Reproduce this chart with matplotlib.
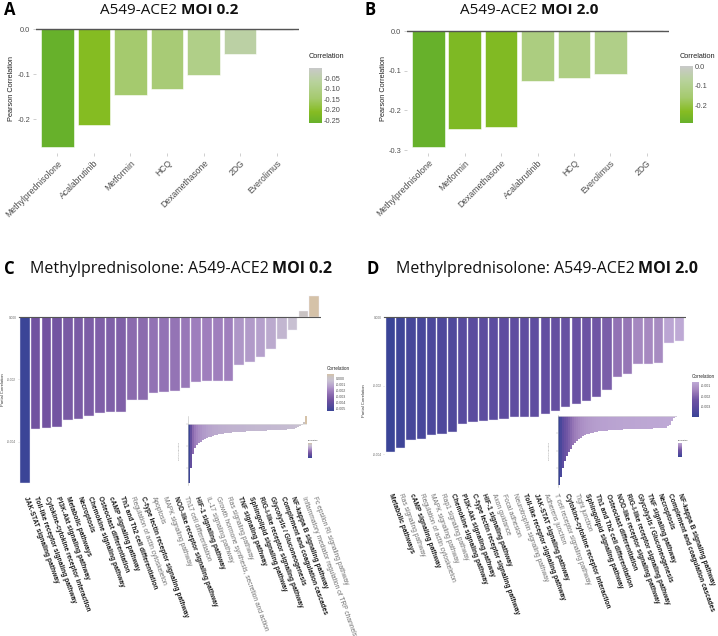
import matplotlib
matplotlib.use("Agg")
import matplotlib.pyplot as plt
import numpy as np
from matplotlib.colors import LinearSegmentedColormap, Normalize
from matplotlib.colorbar import ColorbarBase

W, H = 718, 636

# A / B: Pearson correlation per drug
drugs_a = ["Methylprednisolone", "Acalabrutinib", "Metformin", "HCQ", "Dexamethasone", "2DG", "Everolimus"]
corr_a = [-0.261, -0.212, -0.145, -0.132, -0.101, -0.056, -0.002]
drugs_b = ["Methylprednisolone", "Metformin", "Dexamethasone", "Acalabrutinib", "HCQ", "Everolimus", "2DG"]
corr_b = [-0.292, -0.248, -0.242, -0.125, -0.119, -0.109, 0.003]

# C: pathways, MOI 0.2
paths_c = ["JAK-STAT signaling pathway", "Toll-like receptor signaling pathway",
           "Cytokine-cytokine receptor interaction", "PI3K-Akt signaling pathway",
           "Metabolic pathways", "Necroptosis", "Chemokine signaling pathway",
           "Osteoclast differentiation", "cAMP signaling pathway", "Th1 and Th2 cell differentiation",
           "Regulation of actin cytoskeleton", "C-type lectin receptor signaling pathway", "Apoptosis",
           "MAPK signaling pathway", "NOD-like receptor signaling pathway", "Th17 cell differentiation",
           "HIF-1 signaling pathway", "IL-17 signaling pathway",
           "Growth hormone synthesis, secretion and action", "Ras signaling pathway",
           "TNF signaling pathway", "Sphingolipid signaling pathway",
           "RIG-I-like receptor signaling pathway", "Glycolysis / Gluconeogenesis",
           "Complement and coagulation cascades", "NF-kappa B signaling pathway",
           "Inflammatory mediator regulation of TRP channels", "Fc epsilon RI signaling pathway"]
bold_c = [1, 1, 1, 1, 1, 1, 1, 1, 1, 1, 0, 1, 0, 0, 1, 0, 1, 0, 0, 0, 1, 1, 1, 1, 1, 1, 0, 0]
pcorr_c = [-0.00534, -0.00358, -0.00356, -0.00352, -0.00330, -0.00326, -0.00318, -0.00308,
           -0.00306, -0.00303, -0.00267, -0.00267, -0.00243, -0.00240, -0.00237, -0.00226,
           -0.00208, -0.00205, -0.00205, -0.00205, -0.00152, -0.00144, -0.00129, -0.00101,
           -0.00069, -0.00040, 0.00020, 0.00070]
# C inset: all pathways, sorted
inset_c = [-0.0053, -0.0040, -0.0027, -0.0022, -0.0019, -0.0017, -0.0016, -0.00145, -0.0014, -0.0013,
           -0.00122, -0.00115, -0.00108, -0.00103, -0.0010, -0.00096, -0.00092, -0.00088, -0.00086, -0.00084,
           -0.00082, -0.0008, -0.00078, -0.00077, -0.00076, -0.00074, -0.00073, -0.00072, -0.0007, -0.00069,
           -0.00068, -0.00067, -0.00066, -0.00065, -0.00064, -0.00063, -0.00063, -0.00062, -0.00061, -0.00061,
           -0.0006, -0.0006, -0.00059, -0.00058, -0.00058, -0.00057, -0.00056, -0.00055, -0.00054, -0.00052,
           -0.00051, -0.0005, -0.00048, -0.00045, -0.0004, -0.00032, -0.0002, -0.0001, 0.0002, 0.0007]

# D: pathways, MOI 2.0
paths_d = ["Metabolic pathways", "Ras signaling pathway", "cAMP signaling pathway",
           "Regulation of actin cytoskeleton", "MAPK signaling pathway", "Rap1 signaling pathway",
           "Chemokine signaling pathway", "PI3K-Akt signaling pathway",
           "C-type lectin receptor signaling pathway", "HIF-1 signaling pathway", "Axon guidance",
           "Focal adhesion", "Neurotrophin signaling pathway", "Toll-like receptor signaling pathway",
           "JAK-STAT signaling pathway", "Adherens junction", "T cell receptor signaling pathway",
           "Cytokine-cytokine receptor interaction", "Tight junction", "Sphingolipid signaling pathway",
           "Th1 and Th2 cell differentiation", "Osteoclast differentiation",
           "NOD-like receptor signaling pathway", "RIG-I-like receptor signaling pathway",
           "Glycolysis / Gluconeogenesis", "TNF signaling pathway", "Necroptosis",
           "Complement and coagulation cascades", "NF-kappa B signaling pathway"]
bold_d = [1, 0, 1, 0, 0, 0, 1, 1, 1, 1, 0, 0, 0, 1, 1, 0, 0, 1, 0, 1, 1, 1, 1, 1, 1, 1, 1, 1, 1]
pcorr_d = [-0.00395, -0.00381, -0.00359, -0.00356, -0.00345, -0.00341, -0.00336, -0.00312,
           -0.00305, -0.00303, -0.00301, -0.00297, -0.00292, -0.00292, -0.00292, -0.00283,
           -0.00273, -0.00262, -0.00254, -0.00246, -0.00234, -0.00213, -0.00174, -0.00166,
           -0.00137, -0.00136, -0.00133, -0.00076, -0.00068]
inset_d = [-0.0040, -0.0035, -0.0030, -0.0026, -0.0023, -0.0021, -0.0019, -0.0017, -0.00155, -0.00145,
           -0.00135, -0.00125, -0.00118, -0.00112, -0.00107, -0.00103, -0.0010, -0.00097, -0.00094, -0.00092,
           -0.0009, -0.00088, -0.00087, -0.00086, -0.00085, -0.00084, -0.00083, -0.00082, -0.00081, -0.0008,
           -0.0008, -0.00079, -0.00079, -0.00078, -0.00078, -0.00077, -0.00077, -0.00076, -0.00076, -0.00075,
           -0.00075, -0.00075, -0.00074, -0.00074, -0.00074, -0.00073, -0.00073, -0.00073, -0.00072, -0.00072,
           -0.00072, -0.00071, -0.00071, -0.0007, -0.00068, -0.0006, -0.0005, -0.00032, -0.00015, -0.00004]

plt.rcParams["font.family"] = ["Liberation Sans", "DejaVu Sans"]
plt.rcParams["axes.unicode_minus"] = False

green = LinearSegmentedColormap.from_list("green", [(0, "#67b12b"), (0.2, "#86bc22"), (0.45, "#a5ca6e"),
                                                    (0.75, "#b8d29c"), (1, "#c9c9c9")])
purple_c = LinearSegmentedColormap.from_list("pc", [(0, "#3b4597"), (0.29, "#7152a0"), (0.44, "#8a6aae"),
                                                    (0.55, "#a080be"), (0.67, "#b5a0cc"), (0.82, "#c8c0d2"),
                                                    (0.92, "#c9c3c3"), (1, "#d5c2a8")])
purple_d = LinearSegmentedColormap.from_list("pd", [(0, "#3a4497"), (0.3, "#5e4ca0"), (0.5, "#6f55a4"),
                                                    (0.7, "#9676b6"), (0.8, "#a78ac1"), (1, "#bea9d5")])

fig = plt.figure(figsize=(W / 100, H / 100), dpi=100)
renderer = fig.canvas.get_renderer()


def px_axes(l, t, r, b):
    return fig.add_axes([l / W, 1 - b / H, (r - l) / W, (b - t) / H])


def fig_text(x, y, s, **kw):
    return fig.text(x / W, 1 - y / H, s, **kw)


def title(x, y, regular, bold, size, center=True):
    kw = dict(fontsize=size, va="center", family=["Open Sans", "DejaVu Sans"], color="#111111")
    t1 = fig_text(0, y, regular, **kw)
    t2 = fig_text(0, y, bold, fontweight="bold", **kw)
    w1 = t1.get_window_extent(renderer).width
    w2 = t2.get_window_extent(renderer).width
    gap = size * 0.3
    x0 = x - (w1 + gap + w2) / 2 if center else x
    t1.set_x(x0 / W)
    t2.set_x((x0 + w1 + gap) / W)


def clean(ax):
    for s in ax.spines.values():
        s.set_visible(False)
    ax.set_facecolor("none")


def drug_panel(ax, names, vals, norm, yticks, ylim, label_x):
    x = np.arange(1, len(vals) + 1)
    ax.bar(x, vals, width=0.9, color=green(norm(np.array(vals))), edgecolor="white", linewidth=0.4)
    ax.axhline(0, color="#555555", lw=1.0)
    ax.set_xlim(0.4, len(vals) + 0.6)
    ax.set_ylim(*ylim)
    clean(ax)
    ax.set_xticks(x)
    ax.set_xticklabels(names, rotation=45, ha="right", va="top", rotation_mode="anchor",
                       fontsize=6.2, color="#4d4d4d")
    ax.set_yticks(yticks)
    ax.set_yticklabels(["%.1f" % v for v in yticks], fontsize=5.3, color="#4d4d4d")
    ax.tick_params(length=2, color="#c8c8c8", width=0.6, pad=2)
    ax.set_ylabel("Pearson Correlation", fontsize=5.3, color="#222222")
    ax.yaxis.set_label_coords(label_x, 0.5)


def legend_bar(l, t, r, b, cmap, norm, ticks, fmt, size, tsize, title_y):
    cax = px_axes(l, t, r, b)
    cb = ColorbarBase(cax, cmap=cmap, norm=norm, orientation="vertical")
    cb.outline.set_visible(False)
    cb.set_ticks(ticks)
    cb.set_ticklabels([fmt % v for v in ticks])
    cax.tick_params(labelsize=size, colors="#4d4d4d", length=0, pad=1.5)
    fig_text(l, title_y, "Correlation", fontsize=tsize, color="#222222", va="center")
    return cax


def path_panel(ax, names, bold, vals, cmap, norm, ylim, label_x):
    x = np.arange(1, len(vals) + 1)
    ax.bar(x, vals, width=0.9, color=cmap(norm(np.array(vals))), edgecolor="#f0ecf6", linewidth=0.3)
    ax.axhline(0, color="#555555", lw=0.8)
    ax.set_xlim(0.4, len(vals) + 0.6)
    ax.set_ylim(*ylim)
    clean(ax)
    ax.set_xticks(x)
    ax.set_xticklabels(names, rotation=-70, ha="left", va="center", rotation_mode="anchor", fontsize=4.8)
    for lab, bd in zip(ax.get_xticklabels(), bold):
        lab.set_fontweight("bold" if bd else "normal")
        lab.set_color("#1a1a1a" if bd else "#707070")
    ax.tick_params(axis="x", length=0, pad=3)
    yt = [0, -0.002, -0.004]
    ax.set_yticks(yt)
    ax.set_yticklabels(["%.3f" % v for v in yt], fontsize=2.3, color="#666666")
    ax.tick_params(axis="y", length=1, width=0.4, color="#bbbbbb", pad=0.6)
    ax.set_ylabel("Partial Correlation", fontsize=3.0, color="#333333")
    ax.yaxis.set_label_coords(label_x, 0.5)


def inset_panel(ax, vals, cmap, norm, ylim, yticks):
    x = np.arange(len(vals))
    ax.bar(x, vals, width=1.0, color=cmap(norm(np.array(vals))), linewidth=0)
    ax.axhline(0, color="#dddddd", lw=0.5)
    ax.set_xlim(-0.5, len(vals) - 0.5)
    ax.set_ylim(*ylim)
    clean(ax)
    ax.spines["left"].set_visible(True)
    ax.spines["left"].set_color("#bbbbbb")
    ax.spines["left"].set_linewidth(0.4)
    ax.set_xticks([])
    ax.set_yticks(yticks)
    ax.set_yticklabels(["" for v in yticks])
    ax.tick_params(axis="y", length=1.2, width=0.3, color="#aaaaaa")
    ax.set_ylabel("Partial Correlation", fontsize=1.6, color="#888888", labelpad=1)


# ---- A ----
norm_a = Normalize(-0.262, -0.002)
ax_a = px_axes(35.5, 23.4, 298.5, 153)
drug_panel(ax_a, drugs_a, corr_a, norm_a, [0.0, -0.1, -0.2], (-0.275, 0.013), -0.078)
legend_bar(309, 68, 322, 123, green, norm_a, [-0.25, -0.2, -0.15, -0.1, -0.05], "%.2f", 5.3, 5.3, 57)
fig_text(4, 10, "A", fontsize=12, fontweight="bold", va="center", family=["Open Sans", "DejaVu Sans"])
title(169, 10, "A549-ACE2", "MOI 0.2", 11)

# ---- B ----
norm_b = Normalize(-0.292, 0.003)
ax_b = px_axes(406.5, 23.9, 668.5, 152.9)
drug_panel(ax_b, drugs_b, corr_b, norm_b, [0.0, -0.1, -0.2, -0.3], (-0.307, 0.018), -0.074)
legend_bar(680, 66, 693, 123, green, norm_b, [0.0, -0.1, -0.2], "%.1f", 5.3, 5.3, 57)
fig_text(364, 10, "B", fontsize=12, fontweight="bold", va="center", family=["Open Sans", "DejaVu Sans"])
title(529, 10, "A549-ACE2", "MOI 2.0", 11)

# ---- C ----
norm_c = Normalize(-0.00534, 0.0007)
ax_c = px_axes(18.5, 286.2, 320.5, 492.7)
path_panel(ax_c, paths_c, bold_c, pcorr_c, purple_c, norm_c, (-0.00564, 0.001), -0.046)
legend_bar(327, 374, 334, 411, purple_c, norm_c, [0.0, -0.001, -0.002, -0.003, -0.004, -0.005],
           "%.3f", 2.6, 3.3, 369)
ins_c = px_axes(188, 416, 307, 485)
inset_panel(ins_c, inset_c, purple_c, norm_c, (-0.0055, 0.0007), [0, -0.002, -0.004])
legend_bar(308, 443, 312, 458, purple_c, norm_c, [], "%.3f", 1.5, 1.5, 440)
fig_text(4, 269, "C", fontsize=12, fontweight="bold", va="center", family=["Open Sans", "DejaVu Sans"])
title(30, 269, "Methylprednisolone: A549-ACE2", "MOI 0.2", 11.5, center=False)

# ---- D ----
norm_d = Normalize(-0.00395, -0.00068)
ax_d = px_axes(384.1, 310.5, 685.6, 490)
path_panel(ax_d, paths_d, bold_d, pcorr_d, purple_d, norm_d, (-0.00505, 0.0002), -0.06)
legend_bar(692, 382, 699, 417, purple_d, norm_d, [-0.001, -0.002, -0.003], "%.3f", 2.6, 3.3, 377)
ins_d = px_axes(558, 415, 677, 487)
inset_panel(ins_d, inset_d, purple_d, norm_d, (-0.0041, 0.00005), [-0.001, -0.002, -0.003])
legend_bar(678, 443, 682, 457, purple_d, norm_d, [], "%.3f", 1.5, 1.5, 440)
fig_text(366, 269, "D", fontsize=12, fontweight="bold", va="center", family=["Open Sans", "DejaVu Sans"])
title(396, 269, "Methylprednisolone: A549-ACE2", "MOI 2.0", 11.5, center=False)

fig.savefig("out.png", dpi=100)
